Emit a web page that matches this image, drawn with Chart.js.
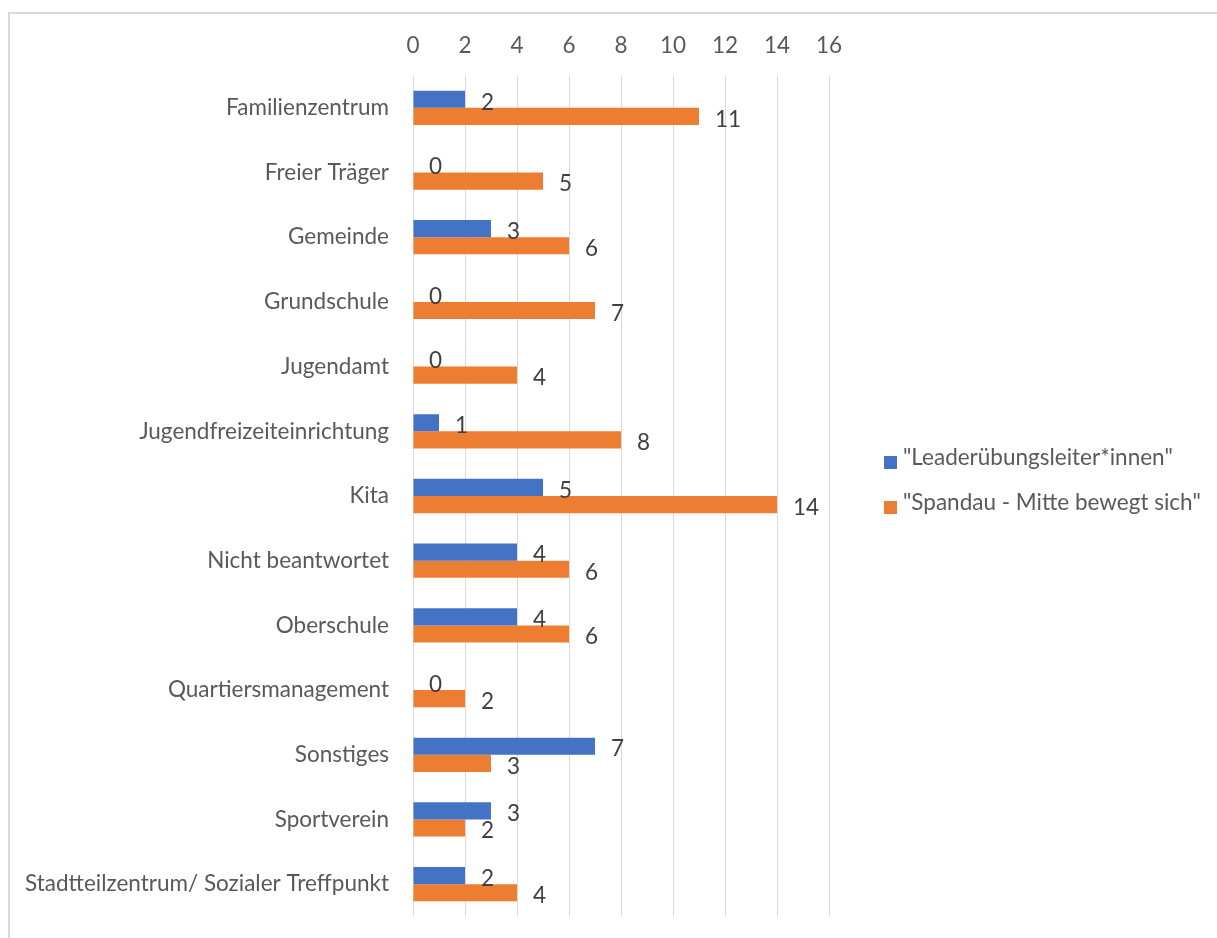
<!DOCTYPE html>
<html>
<head>
<meta charset="utf-8">
<script src="https://cdn.jsdelivr.net/npm/chart.js@4.4.0/dist/chart.umd.min.js"></script>
<style>
  html, body { margin: 0; padding: 0; background: #fff; overflow: hidden; }
  #wrap { position: relative; width: 1217px; height: 938px; overflow: hidden; }
  #frame { position: absolute; left: 8px; top: 12px; width: 1300px; height: 1000px; border: 2px solid #d9d9d9; box-sizing: border-box; }
  #box { position: absolute; left: 0; top: 0; width: 1217px; height: 954px; }
  #legend { position: absolute; left: 884px; top: 434px; font-family: Lato; font-size: 22.5px; color: #595959; }
  .item { display: flex; align-items: center; height: 45px; white-space: nowrap; }
  .swatch { width: 13px; height: 13px; margin-right: 6px; margin-top: 12px; }
</style>
</head>
<body>
<div id="wrap">
  <div id="frame"></div>
  <div id="box"><canvas id="chart"></canvas></div>
  <div id="legend"></div>
</div>
<script>
"use strict";

// categories, top to bottom
const categories = [
  "Familienzentrum",
  "Freier Träger",
  "Gemeinde",
  "Grundschule",
  "Jugendamt",
  "Jugendfreizeiteinrichtung",
  "Kita",
  "Nicht beantwortet",
  "Oberschule",
  "Quartiersmanagement",
  "Sonstiges",
  "Sportverein",
  "Stadtteilzentrum/ Sozialer Treffpunkt"
];

const seriesNames = ["\"Leaderübungsleiter*innen\"", "\"Spandau - Mitte bewegt sich\""];
const leaderValues = [2, 0, 3, 0, 0, 1, 5, 4, 4, 0, 7, 3, 2];
const spandauValues = [11, 5, 6, 7, 4, 8, 14, 6, 6, 2, 3, 2, 4];

// x axis ticks 0..16
const xMin = 0;
const xMax = 16;
const xStep = 2;

const colors = ["#4472C4", "#ED7D31"];
const fontFamily = "Lato";
const fontSize = 22.5;

Chart.defaults.font.family = fontFamily;
Chart.defaults.font.size = fontSize;
Chart.defaults.color = "#595959";

// draws the value next to the end of every bar
const valueLabels = {
  id: "valueLabels",
  afterDatasetsDraw(chart) {
    const ctx = chart.ctx;
    ctx.save();
    ctx.font = fontSize + "px " + fontFamily;
    ctx.fillStyle = "#404040";
    ctx.textAlign = "left";
    ctx.textBaseline = "middle";
    chart.data.datasets.forEach((ds, i) => {
      const meta = chart.getDatasetMeta(i);
      meta.data.forEach((bar, j) => {
        ctx.fillText(ds.data[j], bar.x + 16, bar.y + 3);
      });
    });
    ctx.restore();
  }
};

const data = {
  labels: categories,
  datasets: [
    {
      label: seriesNames[0],
      data: leaderValues,
      backgroundColor: colors[0],
      borderWidth: 0
    },
    {
      label: seriesNames[1],
      data: spandauValues,
      backgroundColor: colors[1],
      borderWidth: 0
    }
  ]
};

const config = {
  type: "bar",
  data: data,
  plugins: [valueLabels],
  options: {
    indexAxis: "y",
    responsive: true,
    maintainAspectRatio: false,
    animation: false,
    layout: {
      padding: { left: 10, right: 388, top: 20, bottom: 11 }
    },
    datasets: {
      bar: { categoryPercentage: 0.53, barPercentage: 1 }
    },
    plugins: {
      legend: { display: false },
      tooltip: { enabled: false }
    },
    scales: {
      x: {
        position: "top",
        min: xMin,
        max: xMax,
        ticks: { stepSize: xStep, padding: 16, color: "#595959" },
        grid: { color: "#d9d9d9", lineWidth: 1, drawTicks: false },
        border: { display: false },
        afterFit(scale) { scale.height = 55.5; }
      },
      y: {
        ticks: { padding: 24, color: "#595959" },
        grid: { display: false, drawTicks: false },
        border: { display: false },
        afterFit(scale) { scale.width = 403; }
      }
    }
  }
};

const myChart = new Chart(document.getElementById("chart"), config);

// legend built from the datasets
const legendBox = document.getElementById("legend");
data.datasets.forEach((ds) => {
  const item = document.createElement("div");
  item.className = "item";
  const swatch = document.createElement("span");
  swatch.className = "swatch";
  swatch.style.background = ds.backgroundColor;
  const text = document.createElement("span");
  text.textContent = ds.label;
  item.appendChild(swatch);
  item.appendChild(text);
  legendBox.appendChild(item);
});
</script>
</body>
</html>
